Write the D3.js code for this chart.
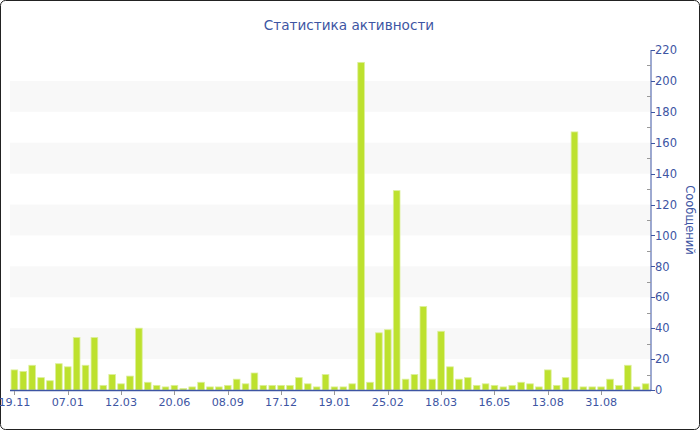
<!DOCTYPE html>
<html><head><meta charset="utf-8">
<script src="https://cdn.jsdelivr.net/npm/d3@7/dist/d3.min.js"></script>
<style>body{margin:0;background:#fff}svg{display:block}</style>
</head><body>
<script>
const values = [13,12,16,8,6,17,15,34,16,34,3,10,4,9,40,5,3,2,3,1,2,5,2,2,3,7,4,11,3,3,3,3,8,4,2,10,2,2,4,212,5,37,39,129,7,10,54,7,38,15,7,8,3,4,3,2,3,5,4,2,13,3,8,167,2,2,2,7,3,16,2,4];
const tickLabels = ["19.11","07.01","12.03","20.06","08.09","17.12","19.01","25.02","18.03","16.05","13.08","31.08"];
const tickEvery = 6;
const yTicks = [0,20,40,60,80,100,120,140,160,180,200,220];
const title = "Статистика активности";
const yTitle = "Сообщений";

(function(){
const W = 700, H = 430;
const pLeft = 10, pRight = 651, pTop = 50, pBottom = 390;
const blue = "#3d55a3";
const font = "DejaVu Sans, Verdana, sans-serif";

const svg = d3.select("body").append("svg").attr("width", W).attr("height", H);
svg.append("rect").attr("x",0.5).attr("y",0.5).attr("width",W-1).attr("height",H-1)
  .attr("rx",5).attr("fill","#fff").attr("stroke","#222");

const x = d3.scaleBand().domain(d3.range(values.length)).range([pLeft, pRight-1]).paddingInner(0.25).paddingOuter(0.12);
const y = d3.scaleLinear().domain([0,220]).range([pBottom, pTop]);

const bandPairs = [[20,40],[60,80],[100,120],[140,160],[180,200]];
svg.append("g").selectAll("rect").data(bandPairs).join("rect")
  .attr("x", pLeft).attr("width", pRight-pLeft)
  .attr("y", d => y(d[1])).attr("height", d => y(d[0]) - y(d[1]))
  .attr("fill", "#f8f8f8");

svg.append("g").selectAll("rect").data(values).join("rect")
  .attr("x", (d,i) => x(i)).attr("width", x.bandwidth())
  .attr("y", d => y(d)).attr("height", d => y(0) - y(d))
  .attr("fill", "#bde12e").attr("stroke", "#dcef9a").attr("stroke-width", 0.8);

const yAxis = svg.append("g").attr("transform", `translate(${pRight},0)`);
yAxis.append("line").attr("y1", pTop).attr("y2", pBottom).attr("stroke", blue);
const minor = d3.range(10, 220, 20);
yAxis.selectAll(".mn").data(minor).join("line").attr("class","mn")
  .attr("x1",-4).attr("x2",0).attr("y1",d=>Math.round(y(d))+0.5).attr("y2",d=>Math.round(y(d))+0.5)
  .attr("stroke","#999");
yAxis.selectAll(".mj").data(yTicks).join("line").attr("class","mj")
  .attr("x1",0).attr("x2",4).attr("y1",d=>Math.round(y(d))+0.5).attr("y2",d=>Math.round(y(d))+0.5)
  .attr("stroke",blue);
yAxis.selectAll("text").data(yTicks).join("text")
  .attr("x", 4).attr("y", d => y(d)).attr("dy","0.36em")
  .attr("fill", blue).attr("font-family", font).attr("font-size", 11.5)
  .text(d => d);

const xa = svg.append("g");
xa.append("line").attr("x1", pLeft).attr("x2", pRight).attr("y1", pBottom+0.5).attr("y2", pBottom+0.5).attr("stroke", blue).attr("stroke-width",1.5);
const tickIdx = tickLabels.map((t,k) => k*tickEvery);
xa.selectAll(".tk").data(tickIdx).join("line").attr("class","tk")
  .attr("x1", i => Math.round(x(i)+x.bandwidth()/2)+0.5).attr("x2", i => Math.round(x(i)+x.bandwidth()/2)+0.5)
  .attr("y1", pBottom+1).attr("y2", pBottom+5).attr("stroke", "#999");
xa.selectAll("text").data(tickIdx).join("text")
  .attr("x", i => x(i)+x.bandwidth()/2).attr("y", pBottom+16)
  .attr("text-anchor","middle").attr("fill", blue).attr("font-family", font).attr("font-size", 11.2)
  .text((i,k) => tickLabels[k]);

svg.append("text").attr("x", 349).attr("y", 30).attr("text-anchor","middle")
  .attr("fill", blue).attr("font-family", font).attr("font-size", 13.6).text(title);

svg.append("text").attr("transform", `translate(686,${(pTop+pBottom)/2}) rotate(90)`)
  .attr("text-anchor","middle").attr("fill", blue).attr("font-family", font).attr("font-size", 11.5)
  .text(yTitle);
})();
</script>
</body></html>
